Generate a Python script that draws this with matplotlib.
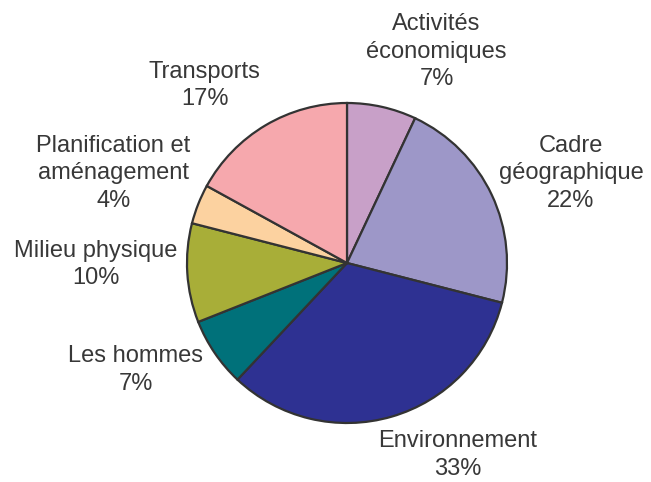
import matplotlib
matplotlib.use('Agg')
import matplotlib.pyplot as plt

# Share of each theme (percent), clockwise from the top
categories = ['Activités\néconomiques', 'Cadre\ngéographique', 'Environnement',
              'Les hommes', 'Milieu physique', 'Planification et\naménagement', 'Transports']
values = [7, 22, 33, 7, 10, 4, 17]
colors = ['#C8A0C8', '#9D97C8', '#2E3192', '#00717A', '#A8AE38', '#FCD2A0', '#F6A8AD']

# label positions (in pie radius units), placed like the original chart
label_pos = [(0.56, 1.32), (1.40, 0.56), (0.69, -1.20), (-1.32, -0.67),
             (-1.57, -0.01), (-1.46, 0.56), (-0.89, 1.11)]

plt.rcParams['font.family'] = ['Liberation Sans', 'DejaVu Sans']

fig = plt.figure(figsize=(6.51, 4.82), dpi=100)
ax = fig.add_axes([0, 0, 1, 1])

ax.pie(values, colors=colors, startangle=90, counterclock=False, radius=1,
       wedgeprops=dict(edgecolor='#333333', linewidth=1.6))

for name, v, (x, y) in zip(categories, values, label_pos):
    ax.text(x, y, f'{name}\n{v}%', ha='center', va='center', fontsize=17,
            color='#383838', linespacing=1.33)

# keep the pie centred where it sits in the original
ax.set_xlim(-347 / 160, (651 - 347) / 160)
ax.set_ylim((263 - 482) / 160, 263 / 160)
ax.axis('off')

fig.savefig('out.png', dpi=100)
